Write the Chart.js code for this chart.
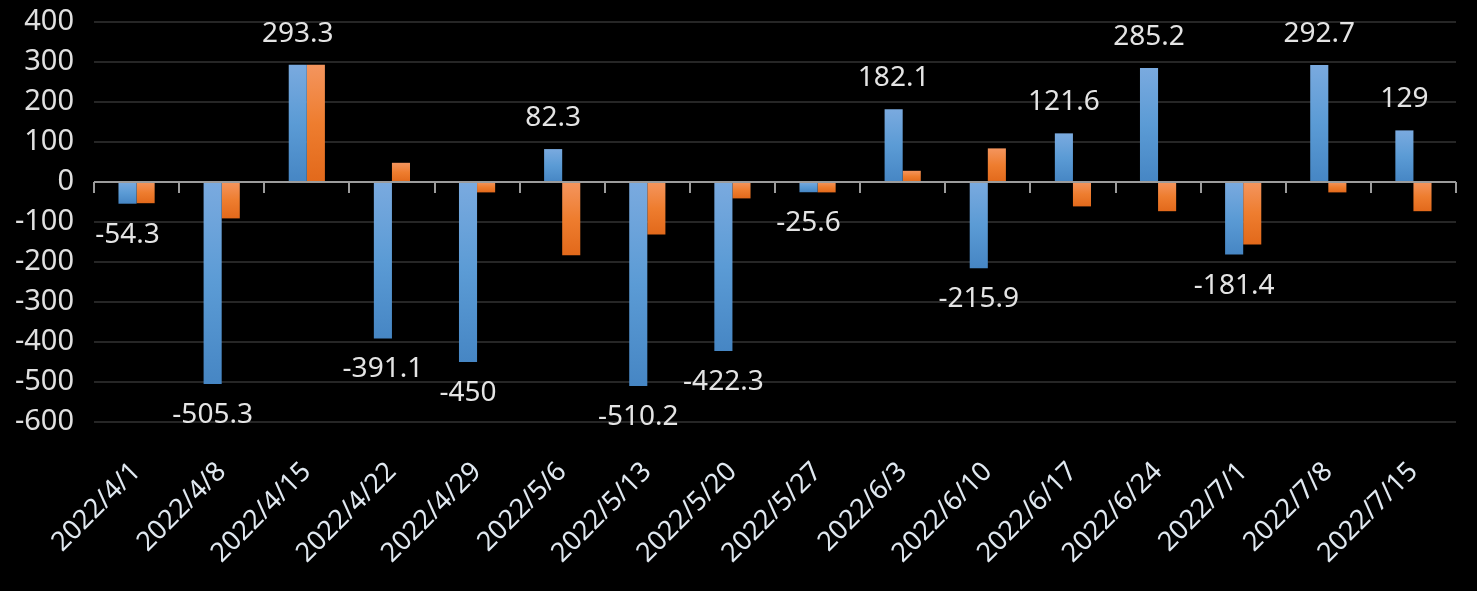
<!DOCTYPE html>
<html>
<head>
<meta charset="utf-8">
<script src="https://cdn.jsdelivr.net/npm/chart.js@4.4.1/dist/chart.umd.min.js"></script>
<style>
  html, body { margin: 0; padding: 0; background: #000; }
  #wrap { width: 1477px; height: 591px; position: relative; }
</style>
</head>
<body>
<div id="wrap"><canvas id="chart"></canvas></div>
<script>
// categories (weekly dates)
const dates = ['2022/4/1', '2022/4/8', '2022/4/15', '2022/4/22', '2022/4/29', '2022/5/6', '2022/5/13', '2022/5/20',
  '2022/5/27', '2022/6/3', '2022/6/10', '2022/6/17', '2022/6/24', '2022/7/1', '2022/7/8', '2022/7/15'];
// blue series (labelled)
const blueValues = [-54.3, -505.3, 293.3, -391.1, -450, 82.3, -510.2, -422.3, -25.6, 182.1, -215.9, 121.6, 285.2, -181.4, 292.7, 129];
// orange series
const orangeValues = [-53, -91, 293, 48, -26, -183, -131, -41, -26, 28, 84, -61, -73, -156, -26, -73];
const yTicks = [400, 300, 200, 100, 0, -100, -200, -300, -400, -500, -600];

const FONT = '"Noto Sans", "Open Sans", sans-serif';

// vertical gradient per bar: lighter at top, darker at bottom
function barGradient(light, mid, dark, values) {
    return function (ctx) {
        const chart = ctx.chart;
        const y = chart.scales.y;
        if (!chart.chartArea || !y || ctx.dataIndex === undefined) return mid;
        const v = values[ctx.dataIndex];
        const p1 = y.getPixelForValue(v);
        const p0 = y.getPixelForValue(0);
        const top = Math.min(p0, p1), bottom = Math.max(p0, p1);
        if (bottom - top < 1) return mid;
        const g = chart.ctx.createLinearGradient(0, top, 0, bottom);
        g.addColorStop(0, light);
        g.addColorStop(0.5, mid);
        g.addColorStop(1, dark);
        return g;
    };
}

// zero line with tick marks + labels on blue bars
const extras = {
    id: 'extras',
    afterDatasetsDraw(chart) {
        const { ctx, scales: { x, y } } = chart;
        const zero = y.getPixelForValue(0);
        ctx.save();
        ctx.strokeStyle = '#9c9c9c';
        ctx.lineWidth = 2;
        ctx.beginPath();
        ctx.moveTo(x.left, zero);
        ctx.lineTo(x.right, zero);
        const step = (x.right - x.left) / dates.length;
        for (let i = 0; i <= dates.length; i++) {
            const px = Math.round(x.left + step * i);
            ctx.moveTo(px, zero);
            ctx.lineTo(px, zero + 11);
        }
        ctx.stroke();

        const meta = chart.getDatasetMeta(0);
        ctx.fillStyle = '#e4e4e4';
        ctx.font = '28px ' + FONT;
        ctx.textAlign = 'center';
        ctx.textBaseline = 'middle';
        meta.data.forEach((bar, i) => {
            const v = blueValues[i];
            const ty = v >= 0 ? bar.y - 31 : bar.y + 31;
            ctx.fillText(String(v), bar.x, ty);
        });
        ctx.restore();
    }
};

new Chart(document.getElementById('chart'), {
    type: 'bar',
    data: {
        labels: dates,
        datasets: [{
            data: blueValues,
            backgroundColor: barGradient('#7aaadf', '#5b9bd5', '#4686c4', blueValues),
            categoryPercentage: 0.425,
            barPercentage: 1
        }, {
            data: orangeValues,
            backgroundColor: barGradient('#f4955e', '#ee7d2f', '#e2691b', orangeValues),
            categoryPercentage: 0.425,
            barPercentage: 1
        }]
    },
    options: {
        responsive: true,
        maintainAspectRatio: false,
        animation: false,
        layout: { padding: { top: 22, right: 21, bottom: 0, left: 0 } },
        plugins: {
            legend: { display: false },
            tooltip: { enabled: false }
        },
        scales: {
            x: {
                grid: { display: false },
                border: { display: false },
                ticks: {
                    color: '#e0e8f0',
                    font: { size: 27, family: FONT },
                    minRotation: 45,
                    maxRotation: 45,
                    padding: 26,
                    autoSkip: false
                },
                afterFit(scale) { scale.height = 169; }
            },
            y: {
                min: -600,
                max: 400,
                afterBuildTicks(scale) { scale.ticks = yTicks.map(v => ({ value: v })); },
                grid: {
                    color: ctx => (ctx.tick && ctx.tick.value === 0) ? 'rgba(0,0,0,0)' : '#262626',
                    lineWidth: 2,
                    drawTicks: false
                },
                border: { display: false },
                ticks: {
                    color: '#e0e0e0',
                    font: { size: 29, family: FONT },
                    padding: 20
                },
                afterFit(scale) {
                    scale.width = 94;
                    scale.paddingTop = 0;
                    scale.paddingBottom = 0;
                }
            }
        }
    },
    plugins: [extras]
});
</script>
</body>
</html>
